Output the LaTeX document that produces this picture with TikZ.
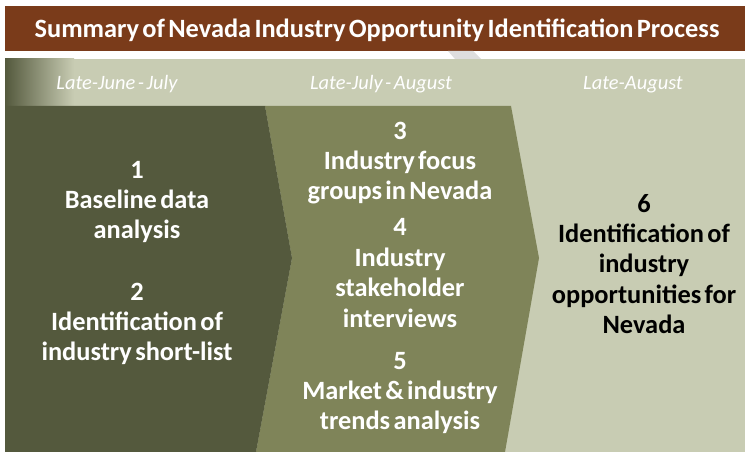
\documentclass[tikz,border=0pt]{standalone}
\usepackage{fontspec}
\setmainfont{Carlito}[WordSpace={0.55,1,1}]
\definecolor{titlebrown}{RGB}{122,59,26}
\definecolor{darkolive}{RGB}{84,89,61}
\definecolor{midolive}{RGB}{127,132,89}
\definecolor{lightband}{RGB}{200,204,179}
\definecolor{ghostgrey}{RGB}{222,222,222}
\tikzset{
  paneltext/.style={font=\fontsize{26.5}{30.5}\selectfont\bfseries, text=white, align=center, inner sep=0pt},
  darktext/.style={paneltext, text=black},
  headtext/.style={font=\fontsize{20.5}{24}\selectfont\itshape, text=white, inner sep=0pt, anchor=base},
  titletext/.style={font=\fontsize{26.5}{30}\selectfont\bfseries, text=white, inner sep=0pt, anchor=base}
}
\begin{document}
\begin{tikzpicture}[x=1bp,y=-1bp]
\useasboundingbox (0,0) rectangle (745,452);
\fill[white] (0,0) rectangle (745,452);
% title bar
\fill[titlebrown] (5,6) rectangle (745,51);
\node[titletext] (title) at (377,38) {Summary of Nevada Industry Opportunity Identification Process};
% faint wedge in the gap
\fill[ghostgrey] (448,51) -- (473,51) -- (481,59) -- (455,59) -- cycle;
% header band
\fill[lightband] (5,59) rectangle (745,106);
\shade[left color=darkolive, right color=lightband] (5,59) rectangle (74,106);
\node[headtext] (h1) at (117,90) {Late-June - July};
\node[headtext] (h2) at (381,90) {Late-July - August};
\node[headtext] (h3) at (633,90) {Late-August};
% panels
\fill[lightband] (5,106) rectangle (745,452);
\fill[midolive] (265,106) -- (511,106) -- (539,258) -- (505,452) -- (256,452) -- (292,258) -- cycle;
\fill[darkolive] (5,106) -- (265,106) -- (292,258) -- (256,452) -- (5,452) -- cycle;
% panel texts
\node[paneltext] (s1) at (137,202) {1\\Baseline data\\analysis};
\node[paneltext] (s2) at (137,324) {2\\Identification of\\industry short-list};
\node[paneltext] (s3) at (400,163) {3\\Industry focus\\groups in Nevada};
\node[paneltext] (s4) at (400,273) {4\\Industry\\stakeholder\\interviews};
\node[paneltext] (s5) at (400,393) {5\\Market \& industry\\trends analysis};
\node[darktext] (s6) at (644,264) {6\\Identification of\\industry\\opportunities for\\Nevada};
\end{tikzpicture}
\end{document}
